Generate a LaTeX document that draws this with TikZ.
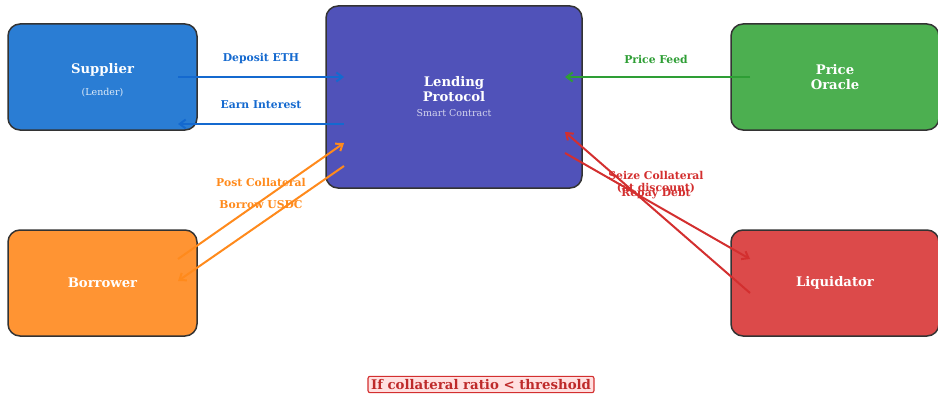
\documentclass[tikz,border=0pt]{standalone}
\usepackage{fontspec}
\setmainfont{DejaVu Serif}
\usetikzlibrary{calc,arrows.meta}
\definecolor{supc}{HTML}{2A7DD4}
\definecolor{proc}{HTML}{5052B9}
\definecolor{orac}{HTML}{4CAF50}
\definecolor{borc}{HTML}{FF9433}
\definecolor{liqc}{HTML}{DC4A4A}
\definecolor{edgec}{HTML}{333333}
\definecolor{ablue}{HTML}{1469CF}
\definecolor{agreen}{HTML}{2E9E35}
\definecolor{aorange}{HTML}{FF8A1C}
\definecolor{ared}{HTML}{D32F2F}
\definecolor{condfill}{HTML}{FFE0E0}
\newcommand\mysubfont{\mdseries\fontsize{9.5}{11}\selectfont}
\tikzset{
  actor/.style={draw=edgec, line width=1.5pt, rounded corners=12pt, minimum width=189pt, minimum height=106pt, text=white, align=center, font=\bfseries\fontsize{13.2}{15}\selectfont},
  flow/.style={line width=2pt, -{Straight Barb[length=6pt,width=9pt,line width=2pt]}},
  lbl/.style={font=\bfseries\fontsize{10.8}{12}\selectfont, align=center, inner sep=0pt}
}
\begin{document}
\begin{tikzpicture}[x=1pt,y=-1pt]
\useasboundingbox (0,0) rectangle (938,396);
\node[actor, fill=supc] (sup) at (102.5,77) {};
\node[text=white, align=center, inner sep=0pt, font=\bfseries\fontsize{13.2}{15}\selectfont] (supt) at ($(sup.center)+(0,3)$) {Supplier\\[7pt]{\mysubfont\color{white!85!supc}(Lender)}};
\node[actor, fill=borc] (bor) at (102.5,283) {Borrower};
\node[actor, fill=orac, minimum width=208pt] (orc) at (835,77) {Price\\Oracle};
\node[actor, fill=liqc, minimum width=208pt] (liq) at (835,283) {Liquidator};
\node[actor, fill=proc, minimum width=256pt, minimum height=182pt] (pro) at (454,97) {Lending\\Protocol\\{\mysubfont\color{white!75!proc}Smart Contract}};

\draw[flow, ablue] ($(sup.center)+(75.5,0)$) -- ($(pro.center)+(-110,-20)$);
\draw[flow, ablue] ($(pro.center)+(-110,27)$) -- ($(sup.center)+(75.5,47)$);
\draw[flow, agreen] ($(orc.center)+(-85,0)$) -- ($(pro.center)+(111,-20)$);
\draw[flow, aorange] ($(bor.center)+(75.5,-24)$) -- ($(pro.center)+(-110,46)$);
\draw[flow, aorange] ($(pro.center)+(-110,69)$) -- ($(bor.center)+(75.5,-2)$);
\draw[flow, ared] ($(pro.center)+(111,56)$) -- ($(liq.center)+(-85,-24)$);
\draw[flow, ared] ($(liq.center)+(-85,10)$) -- ($(pro.center)+(111,35)$);

\node[lbl, text=ablue] (ldep) at (261,59) {Deposit ETH};
\node[lbl, text=ablue] (lint) at (261,105) {Earn Interest};
\node[lbl, text=agreen] (lpf) at (656,59) {Price Feed};
\node[lbl, text=aorange] (lpc) at (261,182) {Post Collateral};
\node[lbl, text=aorange] (lbu) at (261,205) {Borrow USDC};
\node[lbl, text=ared] (lsz) at (656,182) {Seize Collateral\\(at discount)};
\node[lbl, text=ared] (lrd) at (656,194) {Repay Debt};

\node[draw=ared, fill=condfill, line width=1.1pt, rounded corners=2pt, inner xsep=3pt, inner ysep=3pt, text=ared!90!black, font=\bfseries\fontsize{13.3}{15}\selectfont] (cond) at (481,384.5) {If collateral ratio < threshold};
\end{tikzpicture}
\end{document}
